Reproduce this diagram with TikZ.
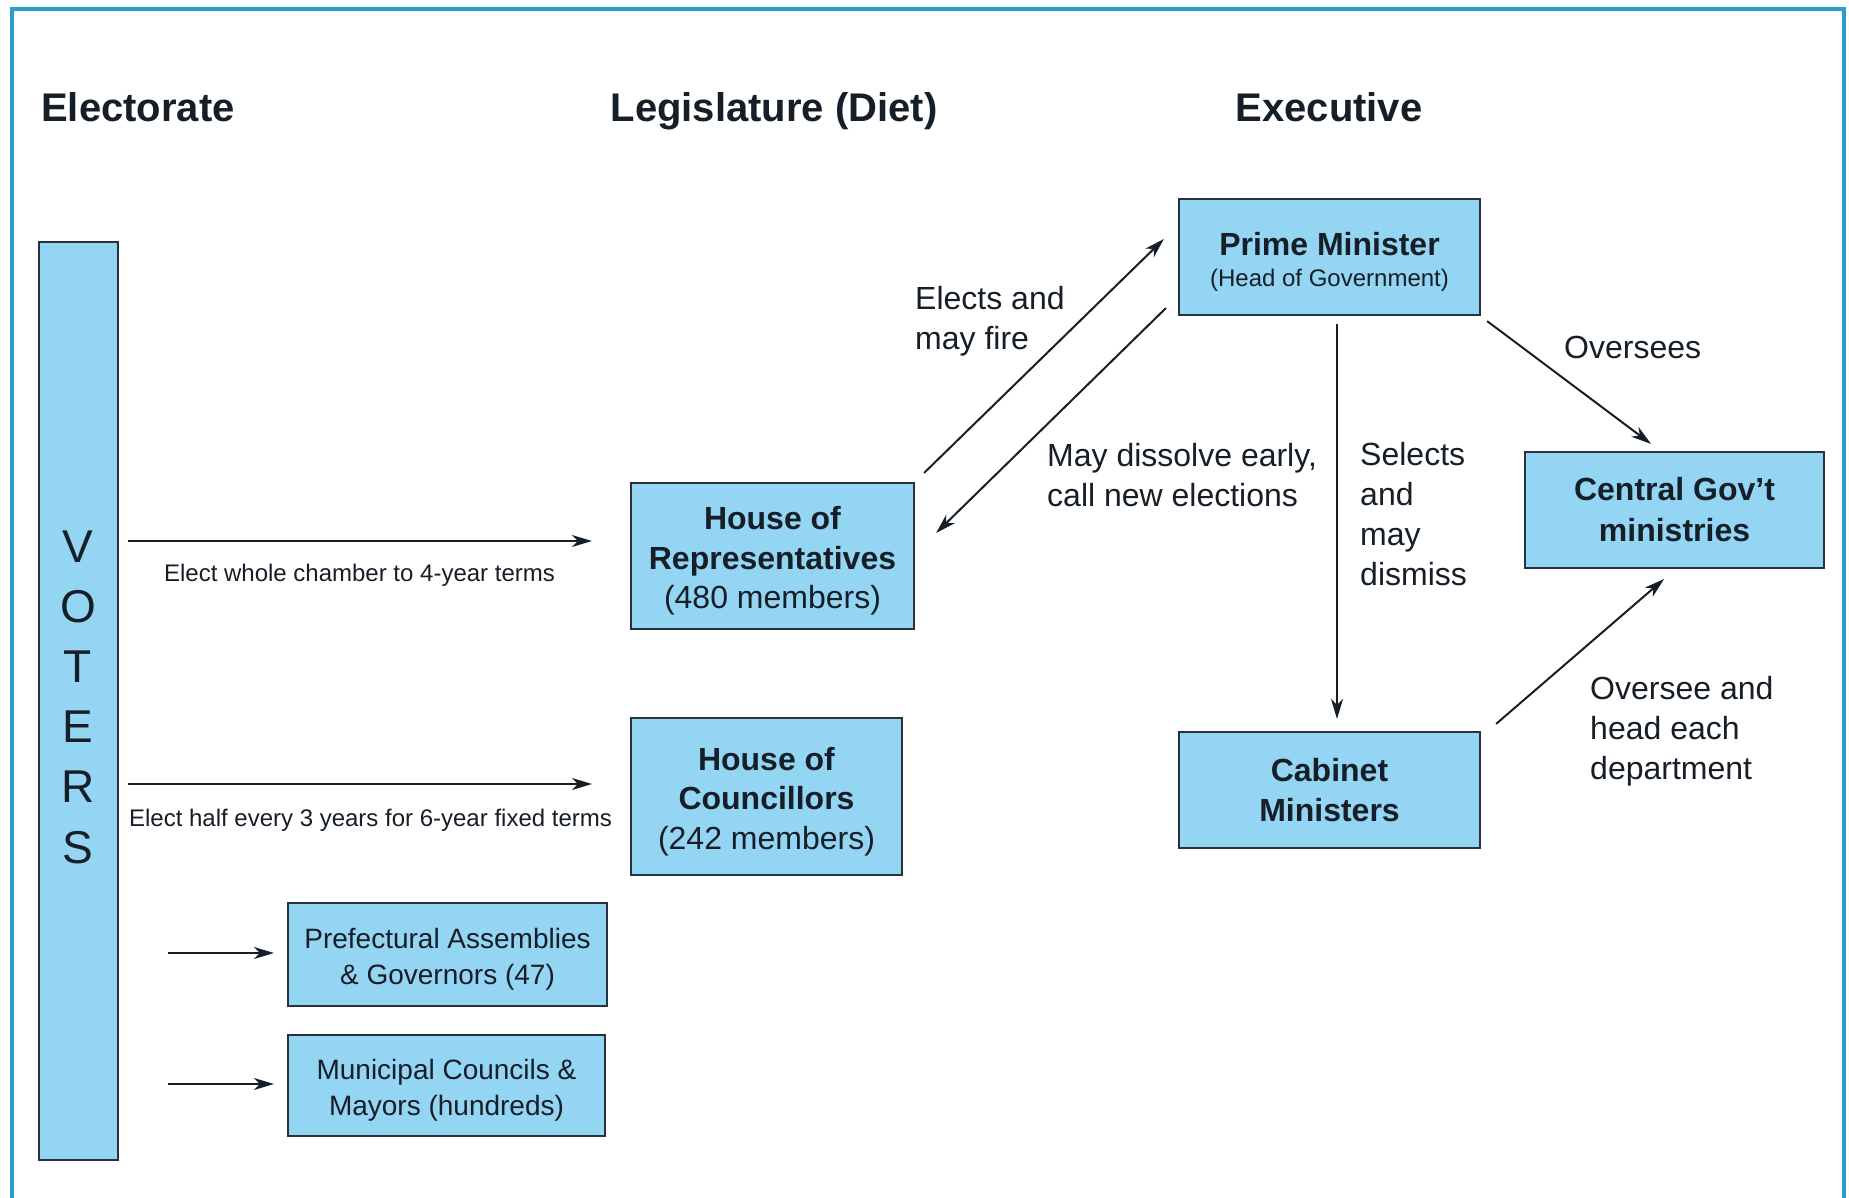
\documentclass[tikz,border=0pt]{standalone}
\usepackage{fontspec}
\setmainfont{Liberation Sans}
\usetikzlibrary{arrows.meta}
\definecolor{boxblue}{RGB}{147,213,243}
\definecolor{boxline}{RGB}{40,50,62}
\definecolor{ink}{RGB}{22,30,40}
\definecolor{framec}{RGB}{45,156,204}
\newcommand\toppad[1]{\rule{0pt}{#1}}
\begin{document}
\begin{tikzpicture}[x=1pt,y=-1pt,
  box/.style={draw=boxline, line width=2.2pt, fill=boxblue, inner sep=0pt, align=center, text=ink, font=\fontsize{32}{39.5}\selectfont},
  sbox/.style={box, font=\fontsize{28}{36}\selectfont},
  arr/.style={-{Stealth[length=20pt,width=12pt,inset=6pt]}, line width=2pt, draw=ink},
  lab/.style={text=ink, font=\fontsize{32}{40}\selectfont, align=left, anchor=west, inner sep=0pt},
  small/.style={text=ink, font=\fontsize{24}{28}\selectfont, inner sep=0pt},
  head/.style={text=ink, font=\bfseries\fontsize{40}{48}\selectfont, inner sep=0pt}]
\useasboundingbox (0,0) rectangle (1849,1198);
\fill[white] (0,0) rectangle (1849,1198);
% frame
\draw[framec, line width=4pt] (12,1198) -- (12,9.5) -- (1844,9.5) -- (1844,1198);

% headings
\node[head, anchor=base west] (hElect) at (41,122) {Electorate};
\node[head, anchor=base] (hLeg) at (774,122) {Legislature (Diet)};
\node[head, anchor=base] (hExec) at (1329,122) {Executive};

% boxes
\node[box, minimum width=79, minimum height=918] (voters) at (78.5,701) {};
\node[text=ink, inner sep=0pt, align=center, font=\fontsize{46}{60.2}\selectfont] (vtext) at (78,697) {V\\O\\T\\E\\R\\S};
\node[box, minimum width=283, minimum height=146] (hor) at (772.5,556) {\toppad{33.5pt}\textbf{House of}\\\textbf{Representatives}\\(480 members)};
\node[box, minimum width=271, minimum height=157] (hoc) at (766.5,796.5) {\toppad{33.5pt}\textbf{House of}\\\textbf{Councillors}\\(242 members)};
\node[sbox, minimum width=319, minimum height=103] (pref) at (447.5,954.5) {\toppad{29.5pt}Prefectural Assemblies\\\& Governors (47)};
\node[sbox, minimum width=317, minimum height=101] (muni) at (446.5,1085.5) {\toppad{29.5pt}Municipal Councils \&\\Mayors (hundreds)};
\node[box, minimum width=301, minimum height=116] (pm) at (1329.5,257) {\toppad{33pt}\textbf{Prime Minister}\\[-8pt]{\fontsize{24}{28}\selectfont (Head of Government)}};
\node[box, minimum width=299, minimum height=116, font=\bfseries\fontsize{32}{41}\selectfont] (cgm) at (1674.5,510) {Central Gov’t\\ministries};
\node[box, minimum width=301, minimum height=116, font=\bfseries\fontsize{32}{40}\selectfont] (cab) at (1329.5,790) {Cabinet\\Ministers};

% connectors from voters
\draw[arr] ([shift={(9,-160)}]voters.east) -- ([shift={(-38,-15)}]hor.west);
\draw[arr] ([shift={(9,83)}]voters.east) -- ([shift={(-38,-12.5)}]hoc.west);
\draw[arr] ([shift={(49,252)}]voters.east) -- ([shift={(-13,-1.5)}]pref.west);
\draw[arr] ([shift={(49,383)}]voters.east) -- ([shift={(-13,-1.5)}]muni.west);
\node[small] (l1) at (359.5,575) {Elect whole chamber to 4-year terms};
\node[small] (l2) at (370.5,820) {Elect half every 3 years for 6-year fixed terms};

% executive connectors
\draw[arr] ([shift={(9,-9)}]hor.north east) -- ([shift={(-14,-18)}]pm.west);
\draw[arr] ([shift={(-12,-8)}]pm.south west) -- ([shift={(21,-23)}]hor.east);
\draw[arr] ([shift={(7.5,8)}]pm.south) -- ([shift={(7.5,-12)}]cab.north);
\draw[arr] ([shift={(6,5)}]pm.south east) -- ([shift={(-23.5,-7)}]cgm.north);
\draw[arr] ([shift={(15,-7)}]cab.north east) -- ([shift={(-10.5,10)}]cgm.south);

\node[lab] (lElects) at (915,321) {Elects and\\may fire};
\node[lab] (lDiss) at (1047,475) {May dissolve early,\\call new elections};
\node[lab] (lSel) at (1360,514) {Selects\\and\\may\\dismiss};
\node[lab] (lOver) at (1564,347) {Oversees};
\node[lab] (lHead) at (1590,731) {Oversee and\\head each\\department};
\end{tikzpicture}
\end{document}
